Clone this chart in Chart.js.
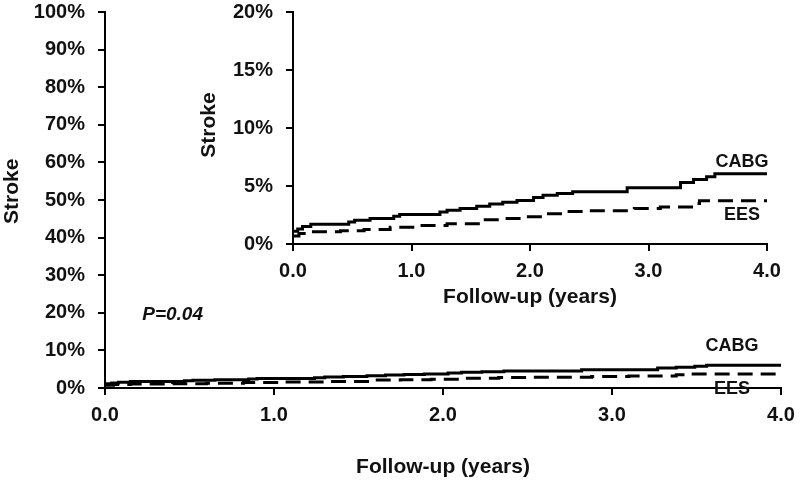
<!DOCTYPE html>
<html lang="en">
<head>
    <meta charset="UTF-8">
    <title>Stroke - CABG vs EES</title>
    <script src="https://cdn.jsdelivr.net/npm/chart.js"></script>
    <style>
        body {
            margin: 0;
            background: #fff;
        }

        .wrap {
            position: relative;
            width: 800px;
            height: 486px;
            background: #fff;
        }

        #principal {
            position: absolute;
            left: 0;
            top: 0;
        }

        #inset {
            position: absolute;
            left: 190px;
            top: 0;
        }
    </style>
</head>

<body>
    <div class="wrap">
        <canvas id="principal" width="800" height="486"></canvas>
        <canvas id="inset" width="600" height="312"></canvas>
    </div>

    <script>
        // Kaplan-Meier style step data (years, % stroke)
        const cabgTime = [0, 0.04, 0.08, 0.15, 0.47, 0.52, 0.65, 0.85, 0.9, 1.24, 1.3, 1.41, 1.55, 1.66, 1.77, 1.89, 2.03, 2.11, 2.23, 2.36, 2.82, 3.27, 3.38, 3.49, 3.56, 4.0];
        const cabgRisk = [1.1, 1.3, 1.5, 1.7, 1.9, 2.05, 2.2, 2.4, 2.55, 2.75, 2.9, 3.05, 3.25, 3.45, 3.6, 3.75, 4.0, 4.2, 4.35, 4.5, 4.85, 5.3, 5.55, 5.8, 6.05, 6.05];

        const eesTime = [0, 0.05, 0.15, 0.4, 0.6, 0.82, 1.05, 1.3, 1.6, 1.75, 1.93, 2.12, 2.33, 2.5, 2.88, 3.1, 3.38, 3.43, 4.0];
        const eesRisk = [0.7, 0.9, 1.05, 1.15, 1.25, 1.45, 1.6, 1.75, 2.1, 2.2, 2.35, 2.6, 2.8, 2.87, 3.05, 3.2, 3.5, 3.72, 3.72];

        const xTicks = [0, 1, 2, 3, 4];
        const mainYMax = 100, mainYStep = 10;
        const insetYMax = 20, insetYStep = 5;

        const mainLabels = [
            { text: 'P=0.04', x: 0.40, y: 19.4, italic: true },
            { text: 'CABG', x: 3.71, y: 11.2 },
            { text: 'EES', x: 3.71, y: -0.25 }
        ];
        const insetLabels = [
            { text: 'CABG', x: 3.79, y: 7.1 },
            { text: 'EES', x: 3.79, y: 2.5 }
        ];

        const FUENTE = '"Liberation Sans", Arial, sans-serif';
        const NEGRO = '#111';

        function puntos(t, v) {
            return t.map((x, i) => ({ x: x, y: v[i] }));
        }

        const textLabels = {
            id: 'textLabels',
            afterDatasetsDraw(chart, args, opts) {
                const { ctx, scales } = chart;
                ctx.save();
                ctx.fillStyle = NEGRO;
                ctx.textAlign = 'center';
                ctx.textBaseline = 'middle';
                (opts.items || []).forEach(it => {
                    ctx.font = (it.italic ? 'italic ' : '') + 'bold ' + (it.italic ? 19 : 18) + 'px ' + FUENTE;
                    ctx.fillText(it.text, scales.x.getPixelForValue(it.x), scales.y.getPixelForValue(it.y));
                });
                ctx.restore();
            }
        };

        function crearGrafico(id, cfg) {
            const ctx = document.getElementById(id).getContext('2d');
            return new Chart(ctx, {
                type: 'line',
                data: {
                    datasets: [
                        {
                            label: 'CABG',
                            data: puntos(cabgTime, cabgRisk),
                            borderColor: '#000',
                            borderWidth: 3,
                            stepped: true,
                            pointRadius: 0,
                            fill: false
                        },
                        {
                            label: 'EES',
                            data: puntos(eesTime, eesRisk),
                            borderColor: '#000',
                            borderWidth: 3,
                            borderDash: [15, 8],
                            stepped: true,
                            pointRadius: 0,
                            fill: false
                        }
                    ]
                },
                plugins: [textLabels],
                options: {
                    responsive: false,
                    animation: false,
                    devicePixelRatio: 1,
                    layout: { padding: cfg.padding },
                    plugins: {
                        legend: { display: false },
                        tooltip: { enabled: false },
                        textLabels: { items: cfg.labels }
                    },
                    scales: {
                        x: {
                            type: 'linear',
                            min: 0,
                            max: 4,
                            afterBuildTicks: s => { s.ticks = xTicks.map(v => ({ value: v })); },
                            afterFit: s => {
                                s.height = cfg.xHeight;
                                s.paddingLeft = 0;
                                s.paddingRight = 0;
                            },
                            ticks: {
                                color: NEGRO,
                                padding: 8,
                                font: { family: FUENTE, size: 20, weight: 'bold' },
                                callback: v => v.toFixed(1)
                            },
                            grid: { drawOnChartArea: false, color: '#000', lineWidth: 2, tickLength: 7 },
                            border: { color: '#000', width: 2 },
                            title: {
                                display: true,
                                text: 'Follow-up (years)',
                                color: NEGRO,
                                padding: { top: 0, bottom: cfg.xTitlePad },
                                font: { family: FUENTE, size: 21, weight: 'bold' }
                            }
                        },
                        y: {
                            min: 0,
                            max: cfg.yMax,
                            afterFit: s => {
                                s.width = cfg.yWidth;
                                s.paddingTop = 0;
                                s.paddingBottom = 0;
                            },
                            ticks: {
                                stepSize: cfg.yStep,
                                color: NEGRO,
                                padding: 13,
                                font: { family: FUENTE, size: 20, weight: 'bold' },
                                callback: v => v + '%'
                            },
                            grid: { drawOnChartArea: false, color: '#000', lineWidth: 2, tickLength: 7 },
                            border: { color: '#000', width: 2 },
                            title: {
                                display: true,
                                text: cfg.yTitle,
                                color: NEGRO,
                                padding: { top: cfg.yTitlePad, bottom: 0 },
                                font: { family: FUENTE, size: 21, weight: 'bold' }
                            }
                        }
                    }
                }
            });
        }

        crearGrafico('principal', {
            padding: { top: 12, right: 19, bottom: 0, left: 0 },
            labels: mainLabels,
            xHeight: 98,
            yWidth: 105,
            yMax: mainYMax,
            yStep: mainYStep,
            xTitlePad: 6,
            yTitlePad: 0,
            yTitle: '   Stroke'
        });

        crearGrafico('inset', {
            padding: { top: 12, right: 23, bottom: 0, left: 0 },
            labels: insetLabels,
            xHeight: 68,
            yWidth: 103,
            yMax: insetYMax,
            yStep: insetYStep,
            xTitlePad: 2,
            yTitlePad: 7,
            yTitle: ' Stroke'
        });
    </script>
</body>

</html>
